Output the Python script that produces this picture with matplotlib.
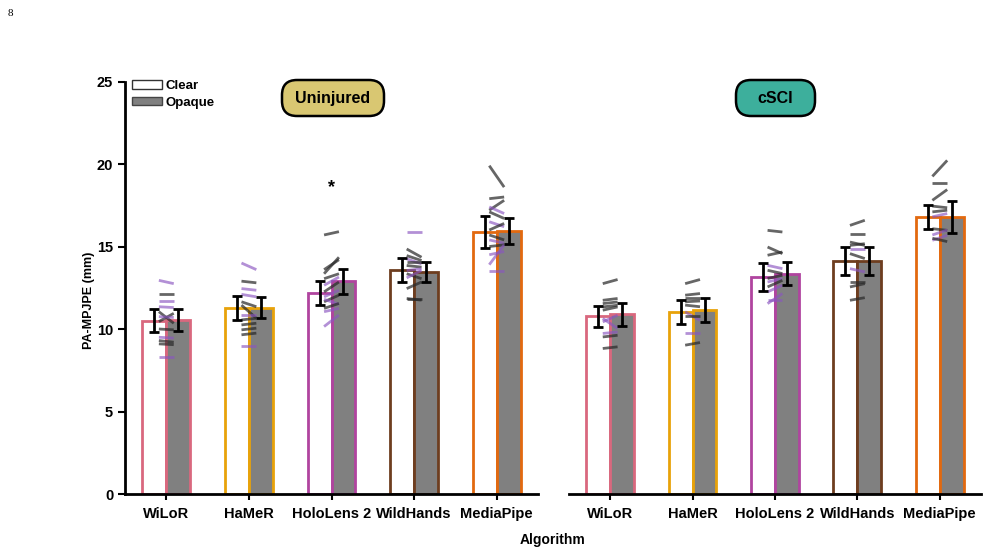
import numpy as np
import matplotlib.pyplot as plt
from matplotlib.patches import Patch, FancyBboxPatch

plt.rcParams['font.family'] = ['Liberation Sans', 'DejaVu Sans']
plt.rcParams['font.weight'] = 'bold'

algorithms = ["WiLoR", "HaMeR", "HoloLens 2", "WildHands", "MediaPipe"]
edge_colors = ["#d9687e", "#e8a20a", "#b0449f", "#6e3d1f", "#e2690f"]

# group means and standard errors
uninj_clear = [10.5, 11.3, 12.2, 13.55, 15.9]
uninj_opaque = [10.55, 11.3, 12.9, 13.45, 15.95]
uninj_clear_se = [0.69, 0.73, 0.73, 0.73, 0.96]
uninj_opaque_se = [0.65, 0.66, 0.76, 0.62, 0.80]

sci_clear = [10.77, 11.02, 13.15, 14.12, 16.8]
sci_opaque = [10.9, 11.14, 13.36, 14.12, 16.78]
sci_clear_se = [0.65, 0.72, 0.83, 0.83, 0.73]
sci_opaque_se = [0.70, 0.73, 0.70, 0.86, 0.96]

# individual subjects (clear, opaque); "p" = purple, "g" = gray
uninj_subj_clear = [
    [12.95, 12.15, 11.7, 11.35, 11.05, 10.45, 10.75, 10.0, 9.5, 9.3, 9.1, 8.3],
    [14.0, 12.9, 12.45, 12.1, 11.65, 11.45, 10.85, 10.55, 10.25, 9.95, 9.65, 9.0],
    [15.7, 13.35, 13.6, 13.05, 12.65, 12.25, 11.95, 11.65, 11.8, 11.25, 11.05, 10.15],
    [15.9, 14.85, 14.45, 14.25, 14.05, 13.85, 13.55, 13.35, 13.1, 12.45, 11.85, 11.8],
    [19.9, 17.9, 17.2, 17.4, 17.1, 16.5, 16.0, 15.7, 15.4, 15.0, 14.5, 13.9, 13.5],
]
uninj_subj_opaque = [
    [12.75, 12.15, 11.7, 11.3, 10.35, 10.95, 10.7, 9.95, 9.45, 9.2, 9.05, 8.3],
    [13.6, 12.8, 12.35, 11.95, 11.35, 10.65, 10.85, 10.65, 10.35, 10.05, 9.75, 9.0],
    [15.9, 14.35, 14.2, 13.35, 13.15, 12.85, 12.35, 12.05, 11.5, 11.55, 11.25, 10.85],
    [15.9, 14.35, 14.15, 13.95, 14.05, 13.75, 13.65, 13.05, 13.55, 12.85, 11.75, 11.8],
    [18.6, 18.0, 17.8, 17.0, 16.7, 16.2, 16.4, 15.4, 15.2, 15.1, 14.7, 15.1, 13.5],
]
uninj_subj_group = ["pgppggpgpggp", "pgppggpggggp",
                    "ggggpgpgpgpp", "pggpggpgpggg", "gggpgpggpgppp"]

sci_subj_clear = [
    [12.75, 11.74, 11.54, 11.34, 11.14, 10.43, 10.64, 9.73, 9.52, 8.82],
    [12.75, 12.05, 11.85, 11.65, 11.45, 11.04, 10.8, 9.73, 9.02],
    [15.98, 14.97, 14.47, 13.86, 13.56, 13.06, 12.85, 12.55, 12.25, 11.74, 11.54],
    [16.28, 15.78, 15.27, 15.07, 14.87, 14.57, 13.66, 12.85, 12.55, 11.74],
    [19.25, 18.85, 17.8, 17.45, 17.1, 16.8, 16.08, 15.7, 15.38, 15.5],
]
sci_subj_opaque = [
    [13.0, 11.85, 11.64, 11.44, 11.34, 10.84, 10.03, 9.82, 9.62, 8.92],
    [13.0, 12.15, 11.85, 11.7, 11.35, 10.53, 10.8, 9.73, 9.18],
    [15.88, 14.57, 14.67, 13.66, 13.36, 13.26, 13.06, 12.95, 12.65, 11.74, 12.15],
    [16.59, 15.78, 15.07, 15.17, 14.87, 14.27, 13.46, 12.85, 12.75, 11.9],
    [20.22, 18.85, 18.45, 17.35, 17.2, 17.0, 15.98, 16.0, 15.68, 15.3],
]
sci_subj_group = ["gggggpppgg", "gggggpgpg", "gggpggpgppp", "ggggpgpggg", "gggggpgppg"]

bar_w = 0.29
purple = "#8a55c0"
gray = "#2b2b2b"


def draw_panel(ax, clear, opaque, clear_se, opaque_se, subj_c, subj_o, subj_g):
    x = np.arange(len(algorithms))
    for i in range(len(algorithms)):
        ax.bar(x[i] - bar_w / 2, clear[i], bar_w, color="white",
               edgecolor=edge_colors[i], linewidth=2, zorder=2)
        ax.bar(x[i] + bar_w / 2, opaque[i], bar_w, color="#808080",
               edgecolor=edge_colors[i], linewidth=2, zorder=2)
        for c, o, g in zip(subj_c[i], subj_o[i], subj_g[i]):
            col = purple if g == "p" else gray
            a = 0.65 if g == "p" else 0.72
            ax.plot([x[i] - 0.09, x[i] + 0.09], [c, o], color=col,
                    alpha=a, lw=2.0, solid_capstyle="butt", zorder=3)
    ax.errorbar(x - bar_w / 2, clear, yerr=clear_se, fmt="none", ecolor="black",
                elinewidth=2, capsize=3.5, capthick=2, zorder=4)
    ax.errorbar(x + bar_w / 2, opaque, yerr=opaque_se, fmt="none", ecolor="black",
                elinewidth=2, capsize=3.5, capthick=2, zorder=4)
    ax.set_xlim(-0.5, 4.5)
    ax.set_ylim(0, 25)
    ax.set_xticks(x)
    ax.set_xticklabels(algorithms, fontsize=10.5, fontweight="bold")
    for s in ["top", "right"]:
        ax.spines[s].set_visible(False)
    ax.spines["bottom"].set_linewidth(2)
    ax.spines["left"].set_linewidth(2)
    ax.tick_params(axis="x", length=4, width=1.5, pad=5)
    ax.tick_params(axis="y", length=5, width=1.5, labelsize=10.5)


fig = plt.figure(figsize=(9.89, 5.55), dpi=100)
ax1 = fig.add_axes([0.1264, 0.1099, 0.4176, 0.7432])
ax2 = fig.add_axes([0.5753, 0.1099, 0.4166, 0.7432])

draw_panel(ax1, uninj_clear, uninj_opaque, uninj_clear_se, uninj_opaque_se,
           uninj_subj_clear, uninj_subj_opaque, uninj_subj_group)
draw_panel(ax2, sci_clear, sci_opaque, sci_clear_se, sci_opaque_se,
           sci_subj_clear, sci_subj_opaque, sci_subj_group)

ax1.set_yticks([0, 5, 10, 15, 20, 25])
for t in ax1.get_yticklabels():
    t.set_fontweight("bold")
ax1.set_ylabel("PA-MPJPE (mm)", fontsize=9, fontweight="bold")
ax1.yaxis.set_label_coords(-0.072, 0.47)
ax2.spines["left"].set_visible(False)
ax2.set_yticks([])

ax1.text(2, 18.6, "*", ha="center", va="center", fontsize=13, fontweight="bold")

# title boxes, placed in pixel-ish inches from the top-left
for x0, w, fc, label in [(2.82, 1.02, "#d9c772", "Uninjured"), (7.36, 0.79, "#3daf9c", "cSCI")]:
    y0 = (555 - 116) / 100
    box = FancyBboxPatch((x0, y0), w, 0.36, boxstyle="round,pad=0,rounding_size=0.15",
                         transform=fig.dpi_scale_trans, fc=fc, ec="black", lw=1.8)
    fig.patches.append(box)
    fig.text((x0 + w / 2) * 100 / 989, (y0 + 0.18) * 100 / 555, label, ha="center",
             va="center", fontsize=11.5, fontweight="bold")

handles = [Patch(facecolor="white", edgecolor="#333333", label="Clear"),
           Patch(facecolor="#808080", edgecolor="#444444", label="Opaque")]
fig.legend(handles=handles, loc="upper left", bbox_to_anchor=(132 / 989, 1 - 80 / 555),
           bbox_transform=fig.transFigure, frameon=False,
           handlelength=2.3, handleheight=0.6, handletextpad=0.25,
           labelspacing=0.35, borderaxespad=0, borderpad=0,
           prop={"weight": "bold", "size": 9.5})

fig.text(0.559, 0.027, "Algorithm", ha="center", va="center", fontsize=10, fontweight="bold")
fig.text(0.008, 0.975, "8", ha="left", va="center", fontsize=8,
         family="Liberation Serif", fontweight="normal")

fig.savefig("out.png", dpi=100)
